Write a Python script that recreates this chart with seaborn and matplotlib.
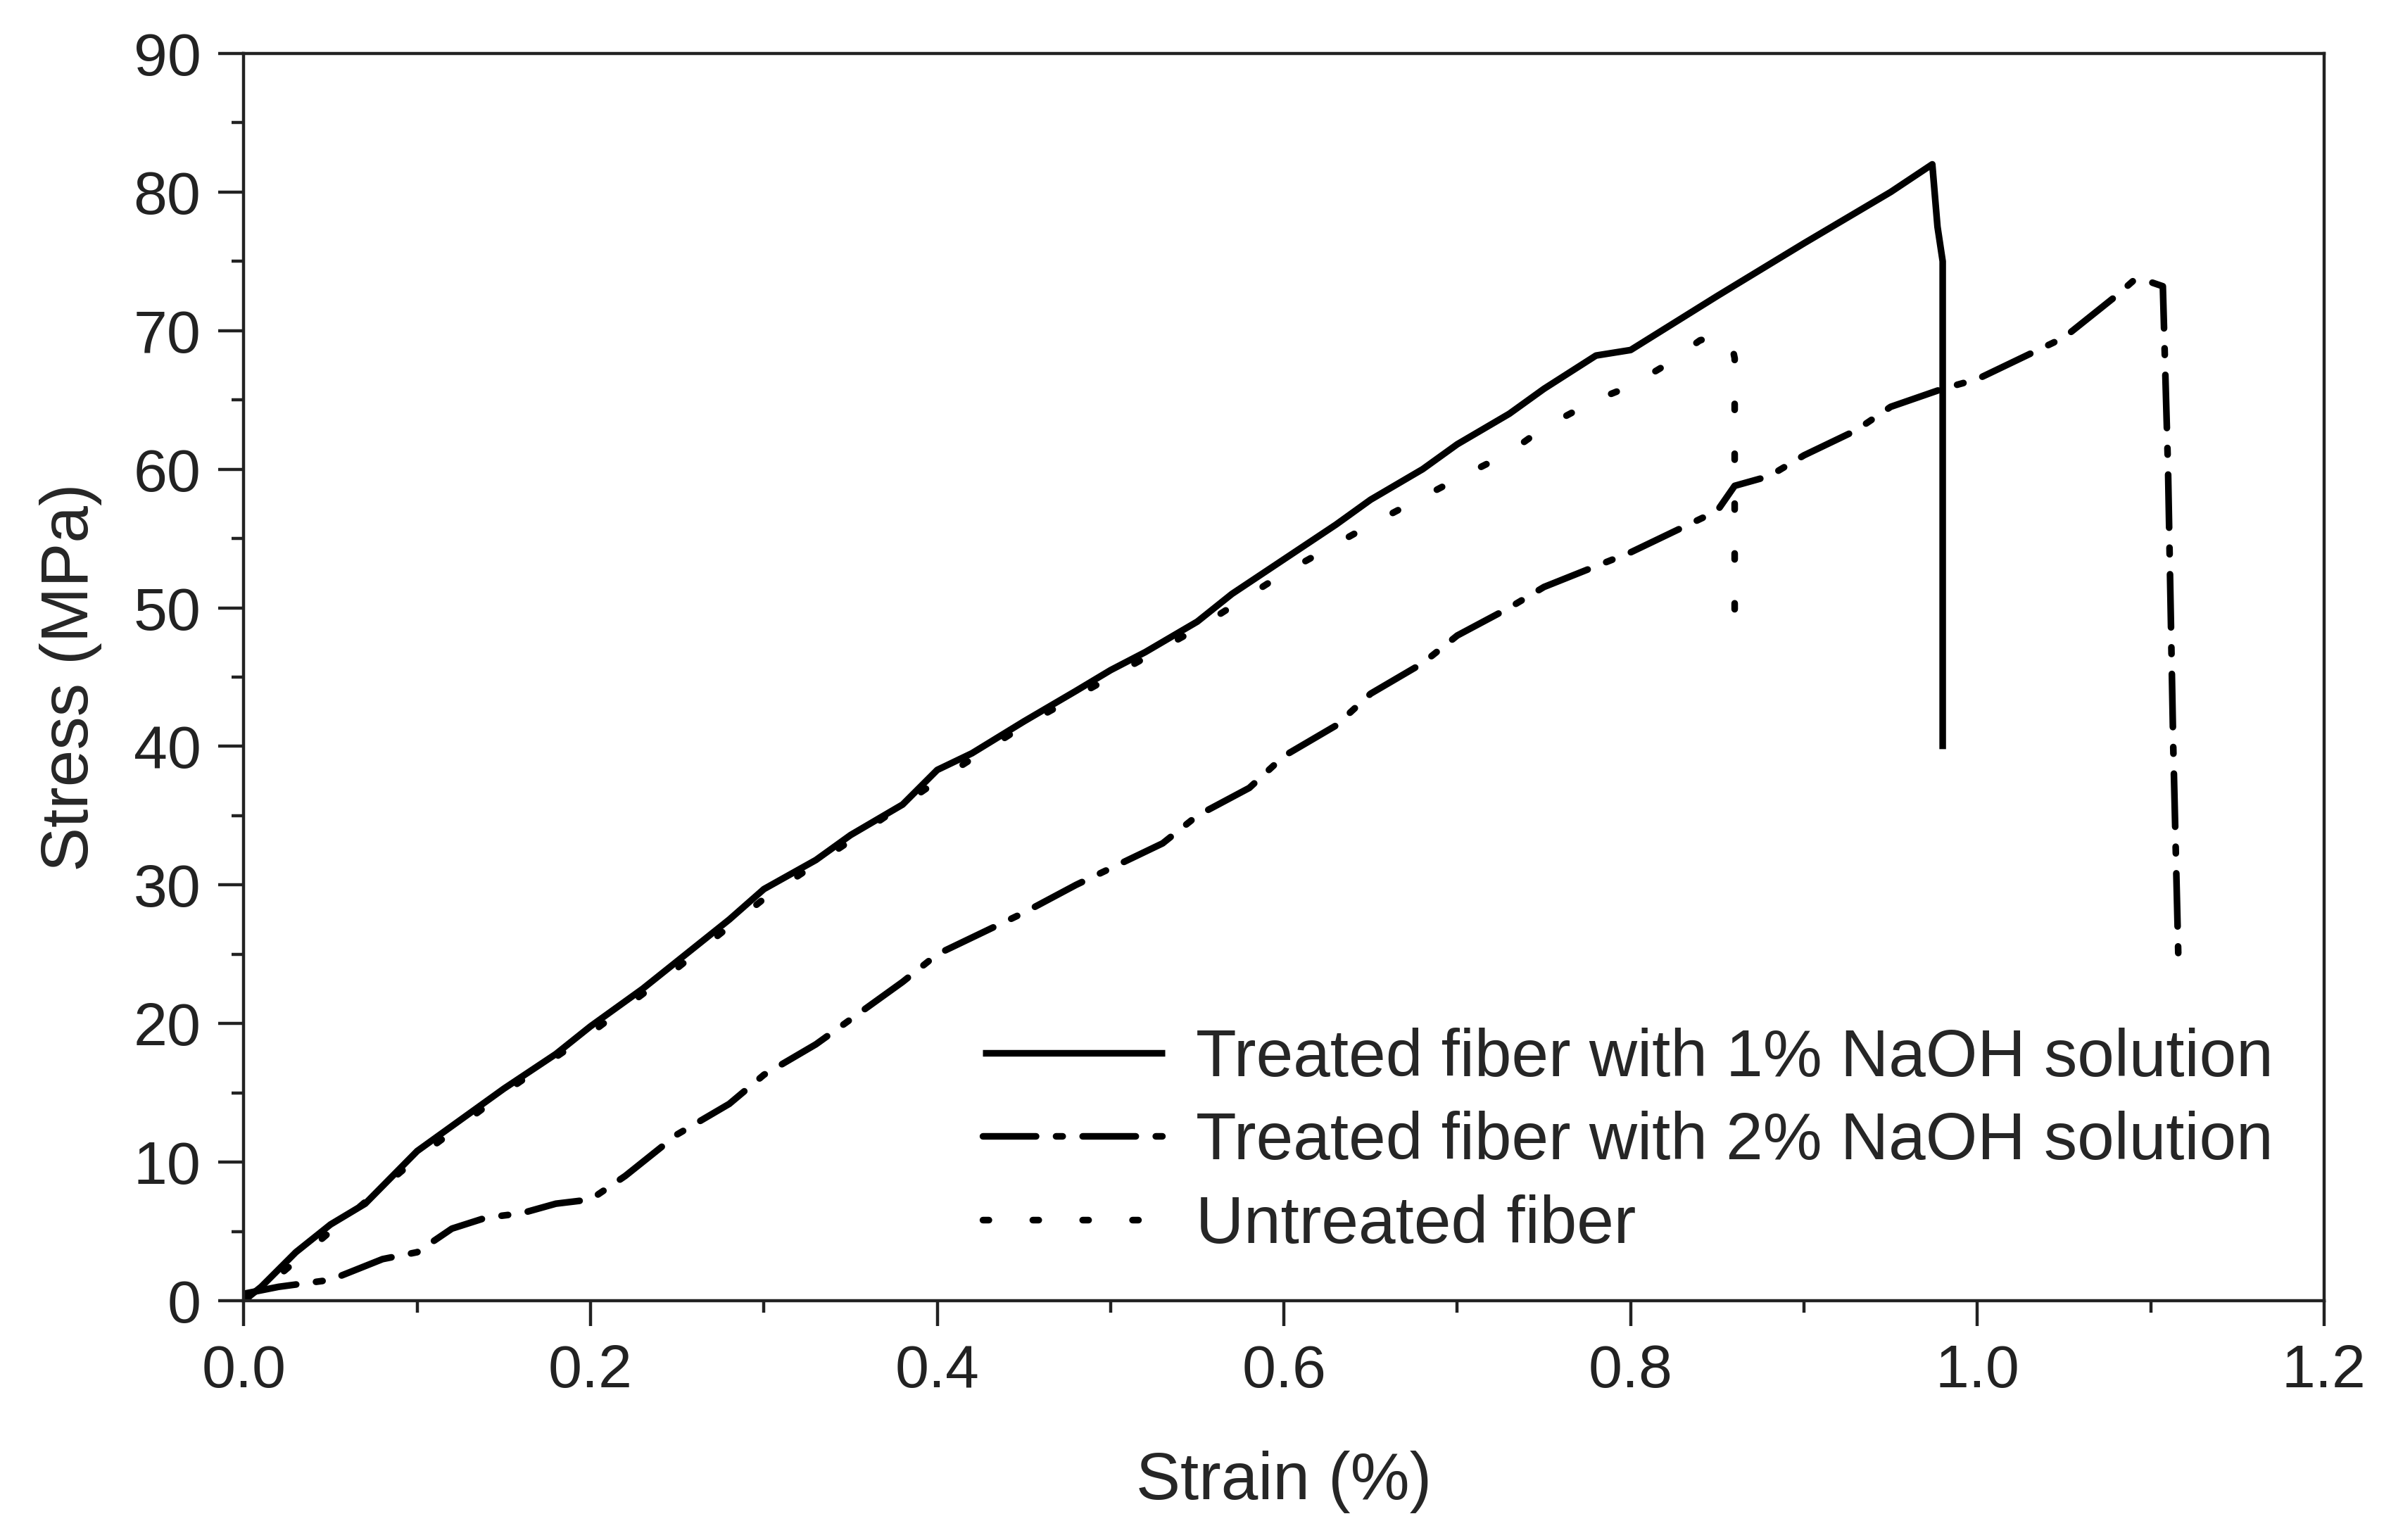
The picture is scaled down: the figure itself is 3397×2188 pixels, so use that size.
import numpy as np
import pandas as pd
import matplotlib
matplotlib.use("Agg")
import matplotlib.pyplot as plt
import seaborn as sns

# Data
strain_1pct = [0.0, 0.01, 0.03, 0.05, 0.07, 0.1, 0.13, 0.15, 0.18, 0.2, 0.23, 0.25,
               0.28, 0.3, 0.33, 0.35, 0.38, 0.4, 0.42, 0.45, 0.48, 0.5, 0.52, 0.55,
               0.57, 0.6, 0.63, 0.65, 0.68, 0.7, 0.73, 0.75, 0.78, 0.8, 0.85, 0.9,
               0.95, 0.974, 0.977, 0.98, 0.98]
stress_1pct = [0.0, 1.0, 3.5, 5.5, 7.0, 10.8, 13.5, 15.3, 17.8, 19.8, 22.5, 24.5,
               27.5, 29.7, 31.8, 33.6, 35.8, 38.3, 39.5, 41.8, 44.0, 45.5, 46.8, 49.0,
               51.0, 53.5, 56.0, 57.8, 60.0, 61.8, 64.0, 65.8, 68.2, 68.6, 72.5, 76.3,
               80.0, 82.0, 77.5, 75.0, 39.8]

strain_2pct = [0.0, 0.02, 0.05, 0.08, 0.1, 0.12, 0.14, 0.16, 0.18, 0.2, 0.22, 0.25,
               0.28, 0.3, 0.33, 0.35, 0.38, 0.4, 0.43, 0.45, 0.48, 0.5, 0.53, 0.55,
               0.58, 0.6, 0.63, 0.65, 0.68, 0.7, 0.73, 0.75, 0.78, 0.8, 0.83, 0.85,
               0.86, 0.88, 0.9, 0.93, 0.95, 0.98, 1.0, 1.03, 1.05, 1.08, 1.09, 1.1,
               1.107, 1.11, 1.113, 1.116]
stress_2pct = [0.5, 1.0, 1.5, 3.0, 3.5, 5.2, 6.0, 6.3, 7.0, 7.3, 9.0, 12.0,
               14.2, 16.3, 18.5, 20.3, 23.0, 25.0, 26.8, 28.0, 30.0, 31.2, 33.0, 35.0,
               37.0, 39.3, 41.5, 43.8, 46.0, 48.0, 50.0, 51.5, 53.0, 54.0, 55.8, 57.0,
               58.8, 59.5, 61.0, 62.8, 64.5, 65.8, 66.5, 68.3, 69.5, 72.5, 73.6, 73.5,
               73.2, 60.0, 40.0, 24.5]

strain_raw = [0.0, 0.02, 0.05, 0.1, 0.15, 0.2, 0.25, 0.3, 0.35, 0.4, 0.45, 0.5,
              0.55, 0.6, 0.65, 0.7, 0.73, 0.75, 0.78, 0.8, 0.82, 0.84, 0.85, 0.858,
              0.86, 0.86]
stress_raw = [0.0, 1.8, 5.0, 10.3, 15.0, 19.3, 24.0, 29.0, 33.2, 37.5, 41.5, 45.0,
              48.5, 52.5, 56.0, 59.3, 61.2, 63.0, 65.0, 66.0, 67.5, 69.3, 69.6, 69.2,
              68.0, 48.8]

labels = ["Treated fiber with 1% NaOH solution",
          "Treated fiber with 2% NaOH solution",
          "Untreated fiber"]

sns.set_style("ticks")
plt.rcParams['font.family'] = ['Liberation Sans', 'DejaVu Sans']

fig = plt.figure(figsize=(16.985, 10.94), dpi=200)
ax = fig.add_axes([0.102, 0.1554, 0.870, 0.8099])

lw = 3.4
sns.lineplot(x=strain_1pct, y=stress_1pct, sort=False, estimator=None, ax=ax,
             color="black", linewidth=lw, label=labels[0])
sns.lineplot(x=strain_2pct, y=stress_2pct, sort=False, estimator=None, ax=ax,
             color="black", linewidth=lw, label=labels[1])
sns.lineplot(x=strain_raw, y=stress_raw, sort=False, estimator=None, ax=ax,
             color="black", linewidth=lw, label=labels[2])

lines = ax.get_lines()
lines[1].set_dashes((8, 3, 1, 3))
lines[2].set_dashes((0.9, 6.6))
for ln in lines:
    ln.set_solid_capstyle("butt")
    ln.set_dash_capstyle("round")

ax.set_xlim(0, 1.2)
ax.set_ylim(0, 90)
ax.set_xticks(np.arange(0, 1.21, 0.2))
ax.set_xticks(np.arange(0.1, 1.2, 0.2), minor=True)
ax.set_yticks(np.arange(0, 91, 10))
ax.set_yticks(np.arange(5, 90, 10), minor=True)
ax.set_xticklabels([f"{v:.1f}" for v in np.arange(0, 1.21, 0.2)])

for s in ax.spines.values():
    s.set_visible(True)
    s.set_linewidth(1.6)
    s.set_color("#222222")
ax.tick_params(which="major", direction="out", length=13, width=1.6, labelsize=31,
               pad=9, colors="#222222")
ax.tick_params(which="minor", direction="out", length=6, width=1.6, colors="#222222")

ax.set_xlabel("Strain (%)", fontsize=34, labelpad=26)
ax.set_ylabel("Stress (MPa)", fontsize=34, labelpad=16)

leg = ax.legend(loc="center left", bbox_to_anchor=(0.355, 0.127), frameon=False,
                fontsize=34, handlelength=2.75, handletextpad=0.46, labelspacing=0.31,
                borderpad=0, borderaxespad=0)

fig.savefig("out.png", dpi=200, facecolor="white")
